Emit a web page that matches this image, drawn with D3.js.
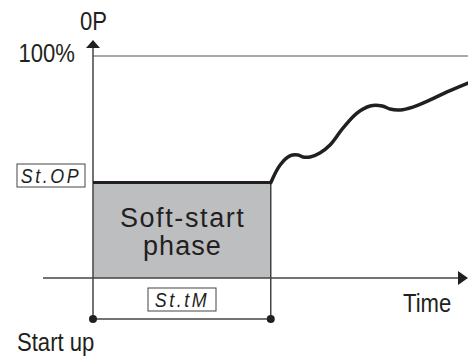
<!DOCTYPE html>
<html>
<head>
<meta charset="utf-8">
<script src="https://cdn.jsdelivr.net/npm/d3@7"></script>
<style>
  body { margin: 0; background: #fff; }
  text { font-family: "Liberation Sans", Arial, sans-serif; fill: #231f20; }
</style>
</head>
<body>
<div id="chart"></div>
<script>
// Data: time (0-100) and output (%).
var softStartEnd = 47.4;
var softStartOP = 43;
var curveTime = [47.4, 49.9, 52.5, 54.7, 56.0, 57.9, 60.5, 63.2, 66.7, 70.4, 73.9, 77.1, 79.2, 81.9, 85.3, 89.9, 94.4, 100];
var curveOP   = [42.9, 50.9, 55.0, 55.4, 54.5, 54.5, 56.3, 59.9, 67.6, 74.3, 77.5, 77.5, 76.1, 75.7, 77.0, 80.2, 83.8, 87.8];
var yTickLabels = ["100%"];
var paramLabels = ["St.OP", "St.tM"];

// Dimensions.
var width = 468, height = 357;

var svg = d3.select("#chart")
    .append("svg")
    .attr("width", width)
    .attr("height", height);

// Scales.
var xScale = d3.scaleLinear().domain([0, 100]).range([93, 468]),
    yScale = d3.scaleLinear().domain([0, 100]).range([278, 56]);

var x0 = xScale(0), y0 = yScale(0), dimY = 319;

// Soft-start area.
svg.append("rect")
    .attr("x", x0)
    .attr("y", yScale(softStartOP))
    .attr("width", xScale(softStartEnd) - x0)
    .attr("height", y0 - yScale(softStartOP))
    .attr("fill", "#bdbec0");

// 100% line.
svg.append("line")
    .attr("x1", x0).attr("x2", 468)
    .attr("y1", yScale(100)).attr("y2", yScale(100))
    .attr("stroke", "#555").attr("stroke-width", 1.2);

// X axis with arrow.
svg.append("line")
    .attr("x1", 43).attr("x2", 462)
    .attr("y1", y0).attr("y2", y0)
    .attr("stroke", "#444").attr("stroke-width", 1.5);
svg.append("path")
    .attr("d", "M468," + y0 + "L458," + (y0 - 7) + "L458," + (y0 + 7) + "Z")
    .attr("fill", "#231f20");

// Y axis with arrow.
svg.append("line")
    .attr("x1", x0).attr("x2", x0)
    .attr("y1", 46).attr("y2", dimY)
    .attr("stroke", "#444").attr("stroke-width", 1.5);
svg.append("path")
    .attr("d", "M" + x0 + ",40L" + (x0 - 7) + ",48L" + (x0 + 7) + ",48Z")
    .attr("fill", "#231f20");

// End of soft-start vertical.
svg.append("line")
    .attr("x1", xScale(softStartEnd)).attr("x2", xScale(softStartEnd))
    .attr("y1", yScale(softStartOP)).attr("y2", dimY)
    .attr("stroke", "#444").attr("stroke-width", 1.5);

// Dimension line with dots.
svg.append("line")
    .attr("x1", x0).attr("x2", xScale(softStartEnd))
    .attr("y1", dimY).attr("y2", dimY)
    .attr("stroke", "#444").attr("stroke-width", 1.5);
svg.selectAll(".dot")
    .data([0, softStartEnd])
    .enter().append("circle")
    .attr("cx", function(d) { return xScale(d); })
    .attr("cy", dimY)
    .attr("r", 4)
    .attr("fill", "#231f20");

// Soft-start OP level.
svg.append("line")
    .attr("x1", x0).attr("x2", xScale(softStartEnd))
    .attr("y1", yScale(softStartOP)).attr("y2", yScale(softStartOP))
    .attr("stroke", "#231f20").attr("stroke-width", 3);

// OP curve.
var line = d3.line()
    .x(function(d, i) { return xScale(curveTime[i]); })
    .y(function(d) { return yScale(d); })
    .curve(d3.curveCatmullRom);

svg.append("path")
    .datum(curveOP)
    .attr("d", line)
    .attr("fill", "none")
    .attr("stroke", "#231f20")
    .attr("stroke-width", 3.5)
    .attr("stroke-linecap", "round");

// Condensed label helper.
function label(x, y, txt, anchor) {
    svg.append("text")
        .attr("transform", "translate(" + x + "," + y + ") scale(0.85,1)")
        .attr("text-anchor", anchor || "start")
        .attr("font-size", 26)
        .text(txt);
}

// Axis texts.
label(80, 30, "0P");
label(75, 62, yTickLabels[0], "end");
label(403, 312, "Time");
label(17, 351, "Start up");

// Box text.
var cx = (x0 + xScale(softStartEnd)) / 2;
svg.append("text").attr("x", cx).attr("y", 227).attr("text-anchor", "middle")
    .attr("font-size", 27).attr("textLength", 124).attr("lengthAdjust", "spacing").text("Soft-start");
svg.append("text").attr("x", cx).attr("y", 255).attr("text-anchor", "middle")
    .attr("font-size", 27).attr("textLength", 78).attr("lengthAdjust", "spacing").text("phase");

// Parameter display labels.
var boxes = [{x: 17, y: 164}, {x: 148, y: 288}];
boxes.forEach(function(b, i) {
    svg.append("rect")
        .attr("x", b.x).attr("y", b.y)
        .attr("width", 68).attr("height", 23)
        .attr("fill", "#fff").attr("stroke", "#444").attr("stroke-width", 1);
    svg.append("text")
        .attr("transform", "translate(" + (b.x + 34) + "," + (b.y + 19) + ") scale(0.85,1)")
        .attr("text-anchor", "middle")
        .attr("font-size", 21)
        .attr("font-style", "italic")
        .attr("letter-spacing", 3)
        .text(paramLabels[i]);
});
</script>
</body>
</html>
